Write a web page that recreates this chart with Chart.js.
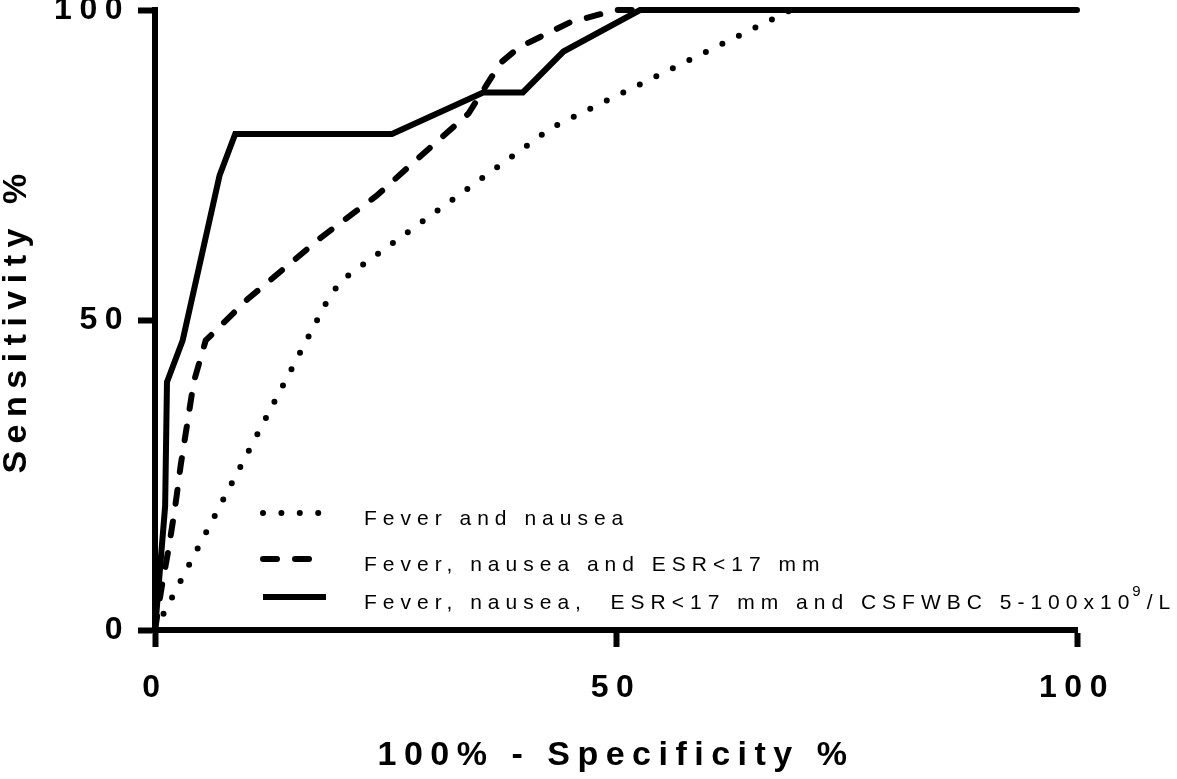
<!DOCTYPE html>
<html>
<head>
<meta charset="utf-8">
<script src="https://cdn.jsdelivr.net/npm/chart.js@4.4.1/dist/chart.umd.min.js"></script>
<style>
  body { margin: 0; background: #fff; }
  #wrap { width: 1177px; height: 779px; position: relative; }
</style>
</head>
<body>
<div id="wrap"><canvas id="rocChart"></canvas></div>
<script>
/*---------------------------- data ------------------------------------*/
var labels = [
  "Fever and nausea",
  "Fever, nausea and ESR<17 mm",
  "Fever, nausea,  ESR<17 mm and CSFWBC 5-100x10\u2079/L"
];

// 100% - specificity (x) and sensitivity (y)
var fprFever = [0, 19, 20.5, 43, 69, 100];
var sensFever = [0, 54, 56.7, 81, 100, 100];

var fprEsr = [0, 0.7, 1.5, 2.2, 2.8, 3.5, 4.2, 5.5, 10, 18, 24, 29, 34, 36, 37.5, 39.5, 45, 50, 100];
var sensEsr = [0, 6.7, 13.3, 20, 26.7, 33.3, 40, 46.7, 53.3, 63.3, 70, 76.7, 83.3, 88, 91.5, 94, 98, 100, 100];

var fprAll = [0, 1.1, 1.3, 3, 7, 8.7, 25.7, 35.6, 39.9, 44.3, 52.6, 100];
var sensAll = [0, 20, 40, 46.7, 73.3, 80, 80, 86.7, 86.7, 93.3, 100, 100];

var tickValues = [0, 50, 100];

function pts(xs, ys) {
  return xs.map(function (x, i) { return { x: x, y: ys[i] }; });
}

/*---------------------------- plugins ------------------------------------*/
var FONT = '"Liberation Sans", Arial, sans-serif';

// wide letter spacing for axis text, like the original
var spacing = {
  id: 'spacing',
  beforeDraw: function (chart) { chart.ctx.letterSpacing = '7.5px'; },
  beforeDatasetsDraw: function (chart) { chart.ctx.letterSpacing = '0px'; }
};

// legend inside the plot, bottom-left
var rocLegend = {
  id: 'rocLegend',
  afterDraw: function (chart) {
    var ctx = chart.ctx;
    var rows = [513, 559, 597];
    ctx.save();
    ctx.letterSpacing = '6px';
    ctx.textBaseline = 'alphabetic';
    ctx.fillStyle = '#000';
    chart.data.datasets.forEach(function (ds, i) {
      var y = rows[i];
      ctx.beginPath();
      ctx.lineWidth = ds.borderWidth;
      ctx.setLineDash(ds.borderDash || []);
      ctx.lineCap = ds.borderCapStyle || 'butt';
      ctx.strokeStyle = ds.borderColor;
      ctx.moveTo(263, y);
      ctx.lineTo(326, y);
      ctx.stroke();

      // superscript exponent drawn raised and smaller
      var parts = ds.label.split('\u2079');
      var x = 364;
      ctx.font = '21px ' + FONT;
      ctx.fillText(parts[0], x, y + 12);
      if (parts.length > 1) {
        x += ctx.measureText(parts[0]).width;
        ctx.font = '15px ' + FONT;
        ctx.fillText('9', x - 3, y - 1);
        x += ctx.measureText('9').width;
        ctx.font = '21px ' + FONT;
        ctx.fillText(parts[1], x - 3, y + 12);
      }
    });
    ctx.restore();
  }
};

/*---------------------------- chart ------------------------------------*/
new Chart("rocChart", {
  type: "line",
  data: {
    datasets: [{
      label: labels[0],
      data: pts(fprFever, sensFever),
      borderColor: "#000",
      borderWidth: 6,
      borderDash: [0, 18.4],
      borderCapStyle: "round",
      pointRadius: 0,
      tension: 0,
      clip: false
    }, {
      label: labels[1],
      data: pts(fprEsr, sensEsr),
      borderColor: "#000",
      borderWidth: 6,
      borderDash: [14, 18],
      borderCapStyle: "round",
      pointRadius: 0,
      tension: 0,
      clip: false
    }, {
      label: labels[2],
      data: pts(fprAll, sensAll),
      borderColor: "#000",
      borderWidth: 6,
      pointRadius: 0,
      tension: 0,
      clip: false
    }]
  },
  options: {
    responsive: true,
    maintainAspectRatio: false,
    animation: false,
    layout: { padding: { top: 10, right: 100, left: 0, bottom: 0 } },
    plugins: {
      legend: { display: false },
      tooltip: { enabled: false }
    },
    scales: {
      x: {
        type: "linear",
        min: 0,
        max: 100,
        afterBuildTicks: function (s) { s.ticks = tickValues.map(function (v) { return { value: v }; }); },
        afterFit: function (s) { s.height = 149; s.paddingLeft = 0; s.paddingRight = 0; },
        grid: { drawOnChartArea: false, drawTicks: true, tickLength: 17, tickWidth: 6, tickColor: "#000" },
        border: { display: true, color: "#000", width: 6 },
        ticks: { color: "#000", padding: 22, maxRotation: 0, font: { family: FONT, size: 32, weight: "bold" } },
        title: {
          display: true,
          text: "100% - Specificity %",
          color: "#000",
          padding: { top: 0, bottom: 6 },
          font: { family: FONT, size: 34, weight: "bold", lineHeight: 1 }
        }
      },
      y: {
        type: "linear",
        min: 0,
        max: 100,
        afterBuildTicks: function (s) { s.ticks = tickValues.map(function (v) { return { value: v }; }); },
        afterFit: function (s) { s.width = 155; s.paddingTop = 0; s.paddingBottom = 0; },
        grid: { drawOnChartArea: false, drawTicks: true, tickLength: 17, tickWidth: 6, tickColor: "#000" },
        border: { display: true, color: "#000", width: 6 },
        ticks: { color: "#000", padding: 8, font: { family: FONT, size: 32, weight: "bold" } },
        title: {
          display: true,
          text: "Sensitivity %",
          color: "#000",
          padding: { top: 0, bottom: 0 },
          font: { family: FONT, size: 34, weight: "bold", lineHeight: 1 }
        }
      }
    }
  },
  plugins: [spacing, rocLegend]
});
</script>
</body>
</html>
